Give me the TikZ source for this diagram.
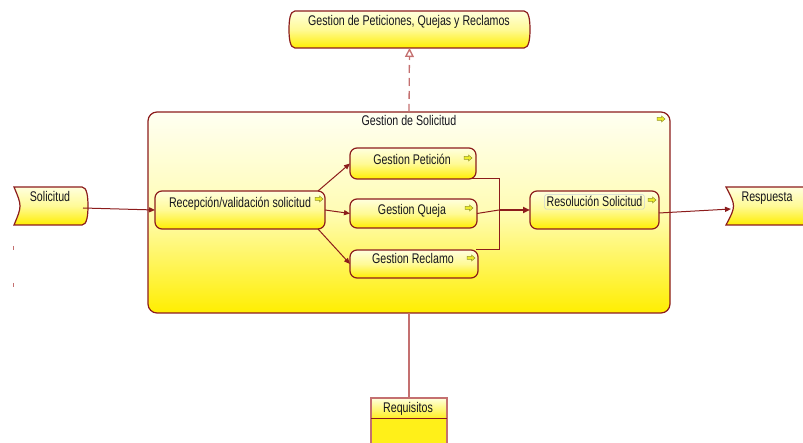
\documentclass[tikz,border=0pt]{standalone}
\usepackage{fontspec}
\setmainfont{Liberation Sans}[FakeStretch=0.76]
\usetikzlibrary{arrows.meta}

\definecolor{edge}{RGB}{140,28,28}
\definecolor{edgesoft}{RGB}{196,112,112}
\definecolor{ytop}{RGB}{255,255,222}
\definecolor{ymid}{RGB}{255,250,150}
\definecolor{ybot}{RGB}{255,238,0}
\definecolor{ctop}{RGB}{255,255,242}
\definecolor{cmid}{RGB}{255,252,180}
\definecolor{cbot}{RGB}{255,238,0}
\definecolor{iconfill}{RGB}{236,236,40}
\definecolor{iconline}{RGB}{150,150,40}
\definecolor{ink}{RGB}{20,20,28}
\definecolor{txtframe}{RGB}{200,208,214}

\begin{document}
\begin{tikzpicture}[x=1pt,y=-1pt,
  base/.style={inner sep=0pt, outer sep=0pt, anchor=center},
  gradfill/.style={top color=ytop, bottom color=ybot, middle color=ymid},
  procbox/.style={base, draw=edge, line width=1.2pt, rounded corners=7pt, gradfill},
  groupbox/.style={base, draw=edge, line width=1.2pt, rounded corners=9pt,
    top color=ctop, bottom color=cbot, middle color=cmid},
  frame/.style={base, draw=none},
  outline/.style={draw=edge, line width=1.2pt, gradfill},
  lbl/.style={inner sep=0pt, outer sep=0pt, anchor=base, text=ink,
    font=\fontsize{14pt}{16pt}\selectfont},
  flow/.style={draw=edge, line width=1pt, -{Triangle[length=6pt,width=5pt]}},
  plainlink/.style={draw=edge, line width=1pt},
  mainflow/.style={draw=edge, line width=2pt, -{Triangle[length=7pt,width=6pt]}},
  softlink/.style={draw=edgesoft, line width=1.3pt},
  realize/.style={draw=edgesoft, line width=1.3pt, dash pattern=on 8pt off 5pt,
    -{Triangle[open,length=9pt,width=9pt]}},
  tickmark/.style={draw=edgesoft, line width=1pt},
  tinyarrow/.pic={
    \path[fill=iconfill, draw=iconline, line width=0.5pt]
      (0,1.5) -- (4.5,1.5) -- (4.5,0) -- (8,3) -- (4.5,6) -- (4.5,4.5) -- (0,4.5) -- cycle;
  }
]
\useasboundingbox (0,0) rectangle (803,443);
\clip (0,0) rectangle (803,443);

% group
\node[groupbox, minimum width=522pt, minimum height=201pt] (cont) at (409,212.5) {};
\node[lbl] (cont-t) at (409,126) {Gestion de Solicitud};
\pic at ([shift={(-13,4)}]cont.north east) {tinyarrow};

% business object
\node[frame, minimum width=76pt, minimum height=62pt] (req) at (409,429) {};
\path[fill=ybot!90!white] (req.north west) rectangle (req.south east);
\path[top color=ytop, bottom color=ybot!85!white]
  (req.north west) rectangle ([shift={(0,20)}]req.north east);
\draw[softlink] (req.south west) -- (req.north west) -- (req.north east) -- (req.south east);
\draw[draw=edge, line width=1pt] ([shift={(0,20)}]req.north west) -- ([shift={(0,20)}]req.north east);
\node[lbl] (req-t) at (408,412) {Requisitos};

% service
\node[frame, minimum width=241pt, minimum height=37pt] (gpqr) at (409.5,29.5) {};
\path[outline]
  ([shift={(6,0)}]gpqr.north west) -- ([shift={(-6,0)}]gpqr.north east)
  .. controls ([shift={(-1,0)}]gpqr.north east) and ([shift={(0,-9)}]gpqr.east) .. (gpqr.east)
  .. controls ([shift={(0,9)}]gpqr.east) and ([shift={(-1,0)}]gpqr.south east) .. ([shift={(-6,0)}]gpqr.south east)
  -- ([shift={(6,0)}]gpqr.south west)
  .. controls ([shift={(1,0)}]gpqr.south west) and ([shift={(0,9)}]gpqr.west) .. (gpqr.west)
  .. controls ([shift={(0,-9)}]gpqr.west) and ([shift={(1,0)}]gpqr.north west) .. ([shift={(6,0)}]gpqr.north west)
  -- cycle;
\node[lbl] (gpqr-t) at (409,26) {Gestion de Peticiones, Quejas y Reclamos};

% events
\node[frame, minimum width=74pt, minimum height=38pt] (sol) at (51,206) {};
\path[outline]
  (sol.north west) -- ([shift={(-6,0)}]sol.north east)
  .. controls ([shift={(-1,0)}]sol.north east) and ([shift={(0,-9)}]sol.east) .. (sol.east)
  .. controls ([shift={(0,9)}]sol.east) and ([shift={(-1,0)}]sol.south east) .. ([shift={(-6,0)}]sol.south east)
  -- (sol.south west)
  .. controls ([shift={(8,0)}]sol.west) .. (sol.north west) -- cycle;
\node[lbl] (sol-t) at (50,202) {Solicitud};

\node[frame, minimum width=114pt, minimum height=38pt] (resp) at (783,206) {};
\path[outline]
  (resp.north west) -- ([shift={(-6,0)}]resp.north east)
  .. controls ([shift={(-1,0)}]resp.north east) and ([shift={(0,-9)}]resp.east) .. (resp.east)
  .. controls ([shift={(0,9)}]resp.east) and ([shift={(-1,0)}]resp.south east) .. ([shift={(-6,0)}]resp.south east)
  -- (resp.south west)
  .. controls ([shift={(10,0)}]resp.west) .. (resp.north west) -- cycle;
\node[lbl] (resp-t) at (767,202) {Respuesta};

% processes
\node[procbox, minimum width=170pt, minimum height=38pt] (rec) at (240,210) {};
\node[procbox, minimum width=126pt, minimum height=31pt] (pet) at (413,163.5) {};
\node[procbox, minimum width=127pt, minimum height=29pt] (que) at (413.5,213.5) {};
\node[procbox, minimum width=128pt, minimum height=28pt] (rcl) at (414,264) {};
\node[procbox, minimum width=129pt, minimum height=38pt] (res) at (594.5,210) {};

\node[lbl] (rec-t) at (240,208) {Recepción/validación solicitud};
\node[lbl] (pet-t) at (412,165) {Gestion Petición};
\node[lbl] (que-t) at (412,215) {Gestion Queja};
\node[lbl] (rcl-t) at (413,264) {Gestion Reclamo};
\node[lbl, draw=txtframe, line width=0.6pt, rounded corners=1.5pt, inner sep=2pt] (res-t) at (594.5,207) {Resolución Solicitud};

\pic at ([shift={(-10,5)}]rec.north east) {tinyarrow};
\pic at ([shift={(-12,7)}]pet.north east) {tinyarrow};
\pic at ([shift={(-12,6)}]que.north east) {tinyarrow};
\pic at ([shift={(-11,5)}]rcl.north east) {tinyarrow};
\pic at ([shift={(-11,6)}]res.north east) {tinyarrow};

% connectors
\coordinate (jn) at (499,210);
\draw[flow] ([shift={(-5,2)}]sol.east) -- (rec.west);
\draw[flow] ([shift={(-7,0)}]rec.north east) -- (pet.west);
\draw[flow] (rec.east) -- (que.west);
\draw[flow] ([shift={(-7,0)}]rec.south east) -- (rcl.west);
\draw[plainlink] ([shift={(-4,0)}]pet.south east) -| (jn);
\draw[plainlink] ([shift={(-2,0)}]rcl.north east) -| (jn);
\draw[plainlink] (que.east) -- (jn);
\draw[mainflow] (jn) -- (res.west);
\draw[flow] ([shift={(0,3)}]res.east) -- ([shift={(5,3)}]resp.west);
\draw[softlink] (cont.south) -- (req.north);
\draw[realize] (cont.north) -- (gpqr.south);

% stray ticks at the left margin
\draw[tickmark] (13,246) -- (13,250);
\draw[tickmark] (13,283) -- (13,287);
\end{tikzpicture}
\end{document}
